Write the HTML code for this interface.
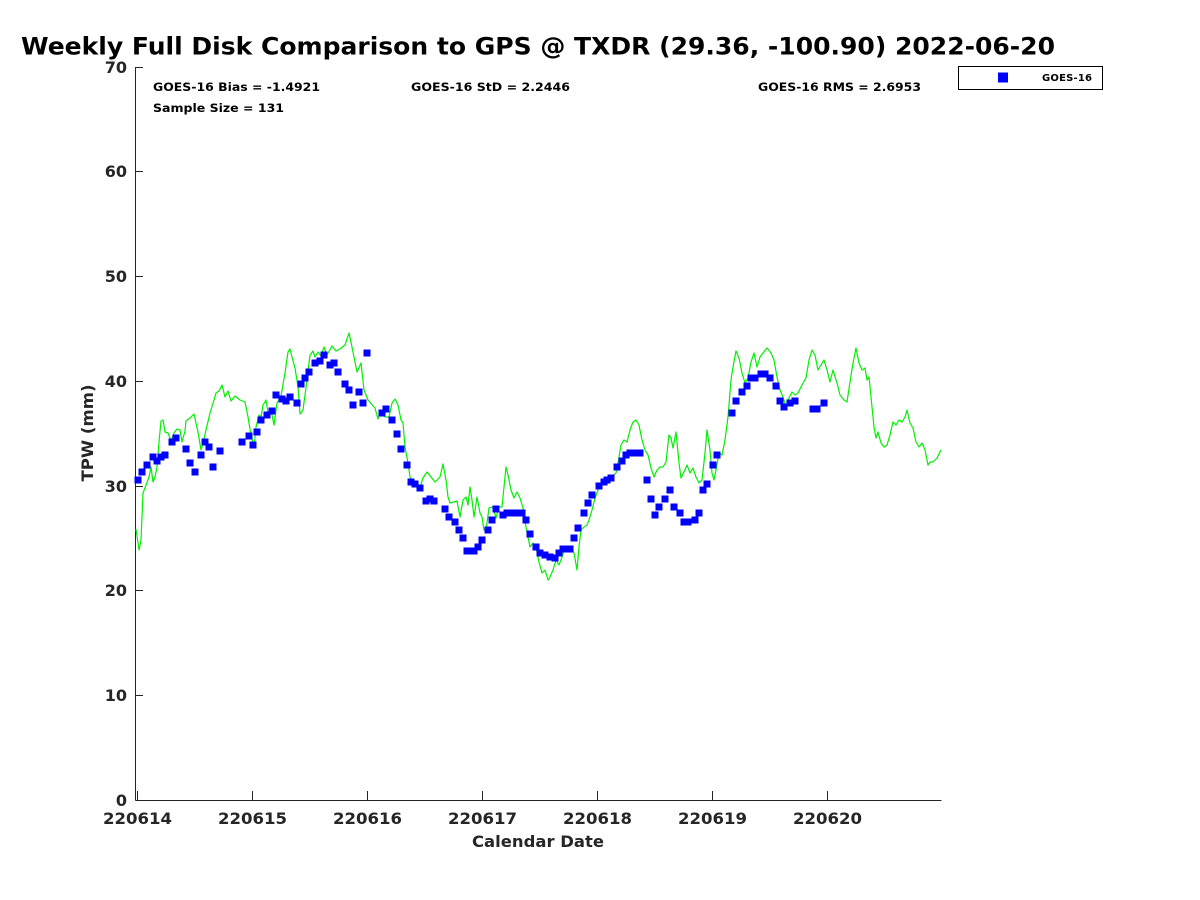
<!DOCTYPE html>
<html>
<head>
<meta charset="utf-8">
<style>
html,body{margin:0;padding:0;background:#fff;}
svg{display:block;}
text{font-family:"DejaVu Sans","Liberation Sans",sans-serif;font-weight:bold;}
</style>
</head>
<body>
<svg width="1200" height="900" viewBox="0 0 1200 900" xmlns="http://www.w3.org/2000/svg">
<rect width="1200" height="900" fill="#fff"/>
<!-- Title -->
<text x="21" y="54.5" font-size="24" fill="#000" textLength="1034" lengthAdjust="spacingAndGlyphs">Weekly Full Disk Comparison to GPS @ TXDR (29.36, -100.90) 2022-06-20</text>

<!-- Axes -->
<g stroke="#262626" stroke-width="1" fill="none">
<line x1="135.5" y1="67" x2="135.5" y2="800.5"/>
<line x1="135.5" y1="800.5" x2="941.5" y2="800.5"/>
<line x1="135.5" y1="67.5" x2="143" y2="67.5"/>
<line x1="135.5" y1="171.5" x2="143" y2="171.5"/>
<line x1="135.5" y1="276.5" x2="143" y2="276.5"/>
<line x1="135.5" y1="381.5" x2="143" y2="381.5"/>
<line x1="135.5" y1="486.5" x2="143" y2="486.5"/>
<line x1="135.5" y1="590.5" x2="143" y2="590.5"/>
<line x1="135.5" y1="695.5" x2="143" y2="695.5"/>
<line x1="137.5" y1="800" x2="137.5" y2="791"/>
<line x1="252.5" y1="800" x2="252.5" y2="791"/>
<line x1="367.5" y1="800" x2="367.5" y2="791"/>
<line x1="482.5" y1="800" x2="482.5" y2="791"/>
<line x1="597.5" y1="800" x2="597.5" y2="791"/>
<line x1="712.5" y1="800" x2="712.5" y2="791"/>
<line x1="827.5" y1="800" x2="827.5" y2="791"/>
</g>

<!-- y tick labels -->
<g font-size="16" fill="#262626" text-anchor="end">
<text x="127" y="73">70</text>
<text x="127" y="177">60</text>
<text x="127" y="282">50</text>
<text x="127" y="387">40</text>
<text x="127" y="492">30</text>
<text x="127" y="596">20</text>
<text x="127" y="701">10</text>
<text x="127" y="806">0</text>
</g>
<!-- x tick labels -->
<g font-size="16" fill="#262626" text-anchor="middle">
<text x="137.5" y="824" textLength="69" lengthAdjust="spacingAndGlyphs">220614</text>
<text x="252.5" y="824" textLength="69" lengthAdjust="spacingAndGlyphs">220615</text>
<text x="367.5" y="824" textLength="69" lengthAdjust="spacingAndGlyphs">220616</text>
<text x="482.5" y="824" textLength="69" lengthAdjust="spacingAndGlyphs">220617</text>
<text x="597.5" y="824" textLength="69" lengthAdjust="spacingAndGlyphs">220618</text>
<text x="712.5" y="824" textLength="69" lengthAdjust="spacingAndGlyphs">220619</text>
<text x="827.5" y="824" textLength="69" lengthAdjust="spacingAndGlyphs">220620</text>
</g>
<text x="538" y="847" font-size="16" fill="#262626" text-anchor="middle" textLength="132" lengthAdjust="spacingAndGlyphs">Calendar Date</text>
<text transform="translate(93,433) rotate(-90)" x="0" y="0" font-size="16" fill="#262626" text-anchor="middle" textLength="97" lengthAdjust="spacingAndGlyphs">TPW (mm)</text>

<!-- stats -->
<g font-size="11.5" fill="#000">
<text x="153" y="91" textLength="167" lengthAdjust="spacingAndGlyphs">GOES-16 Bias = -1.4921</text>
<text x="153" y="112" textLength="131" lengthAdjust="spacingAndGlyphs">Sample Size = 131</text>
<text x="411" y="91" textLength="159" lengthAdjust="spacingAndGlyphs">GOES-16 StD = 2.2446</text>
<text x="758" y="91" textLength="163" lengthAdjust="spacingAndGlyphs">GOES-16 RMS = 2.6953</text>
</g>

<!-- legend -->
<rect x="958.5" y="66.5" width="144" height="23" fill="#fff" stroke="#000" stroke-width="1"/>
<rect x="998" y="72.5" width="10" height="10" fill="#0000ff"/>
<text x="1042" y="81" font-size="10" fill="#000" textLength="50" lengthAdjust="spacing">GOES-16</text>

<!-- GPS line -->
<polyline fill="none" stroke="#00f000" stroke-width="1.2" stroke-linejoin="round" points="136,529 139,550 141,540 143,493 145,488 149,477 151,467 153,482 155,477 157,467 159,442 161,421 163,420 165,432 168,433 171,441 174,433 177,429 180,430 182,442 185,431 186,421 190,418 194,414 198,432 201,450 203,443 206,430 210,413 214,400 216,393 219,391 222,385 225,397 228,391 231,401 235,396 240,400 245,402 248,417 251,435 254,447 256,427 259,415 261,417 263,405 266,400 268,413 270,410 272,415 274,425 277,403 281,396 285,373 288,352 290,349 292,357 295,368 298,387 300,414 303,410 307,380 310,355 313,351 315,357 318,352 321,356 324,347 327,355 332,346 336,351 340,349 345,345 349,333 352,347 357,372 361,363 364,390 368,400 375,408 378,419 380,412 385,417 389,417 392,403 395,399 398,405 401,420 403,423 405,447 408,463 410,477 413,482 417,483 420,487 423,478 427,472 431,477 435,482 440,477 443,464 446,480 448,497 450,503 454,502 457,501 460,517 463,500 466,497 468,505 470,487 472,500 474,517 477,497 480,513 482,517 484,530 486,530 489,508 493,507 496,518 499,507 502,507 504,487 506,467 508,475 511,490 514,498 517,492 520,498 523,508 526,527 528,537 530,547 533,543 536,547 539,562 542,573 545,570 548,580 550,577 553,570 556,560 559,565 562,557 565,548 568,550 571,547 574,553 577,570 579,547 581,530 584,527 587,525 589,520 592,510 595,498 598,490 601,483 604,480 608,483 612,477 616,473 618,463 621,445 624,440 627,442 630,430 633,422 636,420 639,425 642,440 645,450 648,455 651,468 654,477 657,470 660,467 663,467 666,462 669,435 671,438 673,448 676,432 679,463 681,478 684,472 687,465 690,473 693,468 696,477 699,483 702,480 705,453 707,430 710,450 712,473 714,480 716,470 719,453 722,455 725,440 728,417 731,380 733,367 736,351 739,358 742,373 745,383 748,378 751,362 754,353 757,367 760,357 763,353 767,348 771,353 774,360 777,377 780,390 783,397 786,407 789,398 792,392 795,395 798,393 802,385 806,378 809,360 812,350 815,355 818,370 821,365 824,360 827,370 830,382 833,370 837,383 840,395 844,400 847,402 850,382 853,363 856,348 859,363 862,370 865,368 867,380 869,377 872,407 874,427 876,438 878,432 881,443 884,447 887,445 890,435 893,422 896,425 899,420 902,422 905,417 907,410 910,423 913,428 916,442 919,447 922,443 925,450 928,465 930,462 933,462 937,458 941,450"/>

<!-- GOES-16 points -->
<path fill="#0000ff" d="M134.5,476.5h7v7h-7z M138.5,468.5h7v7h-7z M143.5,461.5h7v7h-7z M149.5,453.5h7v7h-7z M153.5,457.5h7v7h-7z M157.5,453.5h7v7h-7z M161.5,451.5h7v7h-7z M168.5,438.5h7v7h-7z M172.5,434.5h7v7h-7z M182.5,445.5h7v7h-7z M186.5,459.5h7v7h-7z M191.5,468.5h7v7h-7z M197.5,451.5h7v7h-7z M201.5,438.5h7v7h-7z M205.5,443.5h7v7h-7z M209.5,463.5h7v7h-7z M216.5,447.5h7v7h-7z M238.5,438.5h7v7h-7z M245.5,432.5h7v7h-7z M249.5,441.5h7v7h-7z M253.5,428.5h7v7h-7z M257.5,416.5h7v7h-7z M263.5,411.5h7v7h-7z M268.5,407.5h7v7h-7z M272.5,391.5h7v7h-7z M278.5,395.5h7v7h-7z M282.5,397.5h7v7h-7z M286.5,393.5h7v7h-7z M293.5,399.5h7v7h-7z M297.5,380.5h7v7h-7z M301.5,374.5h7v7h-7z M305.5,368.5h7v7h-7z M311.5,359.5h7v7h-7z M316.5,357.5h7v7h-7z M320.5,351.5h7v7h-7z M326.5,361.5h7v7h-7z M330.5,359.5h7v7h-7z M334.5,368.5h7v7h-7z M341.5,380.5h7v7h-7z M345.5,386.5h7v7h-7z M349.5,401.5h7v7h-7z M355.5,388.5h7v7h-7z M359.5,399.5h7v7h-7z M363.5,349.5h7v7h-7z M378.5,409.5h7v7h-7z M382.5,405.5h7v7h-7z M388.5,416.5h7v7h-7z M393.5,430.5h7v7h-7z M397.5,445.5h7v7h-7z M403.5,461.5h7v7h-7z M407.5,478.5h7v7h-7z M411.5,480.5h7v7h-7z M416.5,484.5h7v7h-7z M422.5,497.5h7v7h-7z M426.5,495.5h7v7h-7z M430.5,497.5h7v7h-7z M441.5,505.5h7v7h-7z M445.5,513.5h7v7h-7z M451.5,518.5h7v7h-7z M455.5,526.5h7v7h-7z M459.5,534.5h7v7h-7z M463.5,547.5h7v7h-7z M470.5,547.5h7v7h-7z M474.5,543.5h7v7h-7z M478.5,536.5h7v7h-7z M484.5,526.5h7v7h-7z M488.5,516.5h7v7h-7z M492.5,505.5h7v7h-7z M499.5,511.5h7v7h-7z M503.5,509.5h7v7h-7z M507.5,509.5h7v7h-7z M511.5,509.5h7v7h-7z M518.5,509.5h7v7h-7z M522.5,516.5h7v7h-7z M526.5,530.5h7v7h-7z M532.5,543.5h7v7h-7z M536.5,549.5h7v7h-7z M541.5,551.5h7v7h-7z M546.5,553.5h7v7h-7z M551.5,554.5h7v7h-7z M555.5,549.5h7v7h-7z M559.5,545.5h7v7h-7z M566.5,545.5h7v7h-7z M570.5,534.5h7v7h-7z M574.5,524.5h7v7h-7z M580.5,509.5h7v7h-7z M584.5,499.5h7v7h-7z M588.5,491.5h7v7h-7z M595.5,482.5h7v7h-7z M600.5,478.5h7v7h-7z M603.5,476.5h7v7h-7z M607.5,474.5h7v7h-7z M613.5,463.5h7v7h-7z M618.5,457.5h7v7h-7z M622.5,451.5h7v7h-7z M626.5,449.5h7v7h-7z M631.5,449.5h7v7h-7z M636.5,449.5h7v7h-7z M643.5,476.5h7v7h-7z M647.5,495.5h7v7h-7z M651.5,511.5h7v7h-7z M655.5,503.5h7v7h-7z M661.5,495.5h7v7h-7z M666.5,486.5h7v7h-7z M670.5,503.5h7v7h-7z M676.5,509.5h7v7h-7z M680.5,518.5h7v7h-7z M684.5,518.5h7v7h-7z M691.5,516.5h7v7h-7z M695.5,509.5h7v7h-7z M699.5,486.5h7v7h-7z M703.5,480.5h7v7h-7z M709.5,461.5h7v7h-7z M713.5,451.5h7v7h-7z M728.5,409.5h7v7h-7z M732.5,397.5h7v7h-7z M738.5,388.5h7v7h-7z M743.5,382.5h7v7h-7z M747.5,374.5h7v7h-7z M751.5,374.5h7v7h-7z M757.5,370.5h7v7h-7z M761.5,370.5h7v7h-7z M766.5,374.5h7v7h-7z M772.5,382.5h7v7h-7z M776.5,397.5h7v7h-7z M780.5,403.5h7v7h-7z M786.5,399.5h7v7h-7z M791.5,397.5h7v7h-7z M809.5,405.5h7v7h-7z M813.5,405.5h7v7h-7z M820.5,399.5h7v7h-7z"/>
</svg>
</body>
</html>
